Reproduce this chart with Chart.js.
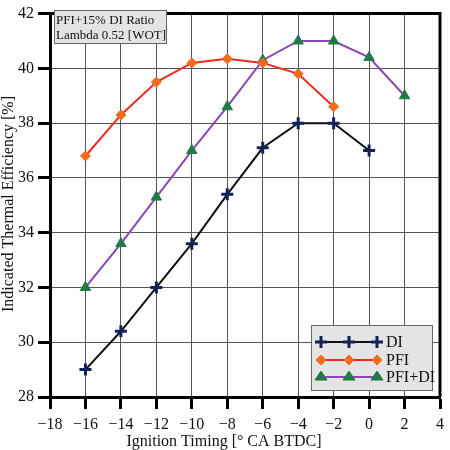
<!DOCTYPE html>
<html>
<head>
<meta charset="utf-8">
<script src="https://cdn.jsdelivr.net/npm/chart.js@4"></script>
<style>
  html, body { margin: 0; padding: 0; background: #fff; }
  #wrap { width: 450px; height: 450px; }
</style>
</head>
<body>
<div id="wrap"><canvas id="chart" width="450" height="450"></canvas></div>
<script>
// ignition timing [deg CA BTDC] and efficiency series
const timingDI = [-16, -14, -12, -10, -8, -6, -4, -2, 0];
const valuesDI = [29.0, 30.4, 32.0, 33.6, 35.4, 37.1, 38.0, 38.0, 37.0];
const timingPFI = [-16, -14, -12, -10, -8, -6, -4, -2];
const valuesPFI = [36.8, 38.3, 39.5, 40.2, 40.35, 40.2, 39.8, 38.6];
const timingMix = [-16, -14, -12, -10, -8, -6, -4, -2, 0, 2];
const valuesMix = [32.0, 33.6, 35.3, 37.0, 38.6, 40.3, 41.0, 41.0, 40.4, 39.0];
const seriesNames = ['DI', 'PFI', 'PFI+DI'];
const noteLines = ['PFI+15% DI Ratio', 'Lambda 0.52 [WOT]'];
const xTitle = 'Ignition Timing [\u00b0 CA BTDC]';
const yTitle = 'Indicated Thermal Efficiency [%]';

const serif = "'Liberation Serif', 'DejaVu Serif', serif";
const toPoints = (xs, ys) => xs.map((x, i) => ({ x, y: ys[i] }));
const minus = (v) => (v < 0 ? '\u2212' + Math.abs(v) : String(v));

// 凡例用のマーカーを描く
function drawMarker(ctx, style, x, y, r) {
  ctx.beginPath();
  if (style === 'cross') {
    ctx.moveTo(x - r, y); ctx.lineTo(x + r, y);
    ctx.moveTo(x, y - r); ctx.lineTo(x, y + r);
    ctx.stroke();
  } else if (style === 'rectRot') {
    ctx.moveTo(x, y - r); ctx.lineTo(x + r, y);
    ctx.lineTo(x, y + r); ctx.lineTo(x - r, y);
    ctx.closePath(); ctx.fill(); ctx.stroke();
  } else {
    const h = r * 1.5;
    ctx.moveTo(x, y - h * 0.66); ctx.lineTo(x + r, y + h * 0.34);
    ctx.lineTo(x - r, y + h * 0.34);
    ctx.closePath(); ctx.fill(); ctx.stroke();
  }
}

// 枠・注記・凡例・軸タイトルを描く
const decor = {
  id: 'decor',
  afterDatasetsDraw(chart) {
    const { ctx, chartArea: a } = chart;
    ctx.save();
    // top / right frame
    ctx.strokeStyle = '#000';
    ctx.lineWidth = 3;
    ctx.beginPath();
    ctx.moveTo(a.left, a.top);
    ctx.lineTo(a.right, a.top);
    ctx.lineTo(a.right, a.bottom);
    ctx.stroke();

    // note box
    ctx.fillStyle = '#e4e4e4';
    ctx.fillRect(54, 10, 112, 33);
    ctx.strokeStyle = '#666';
    ctx.lineWidth = 1;
    ctx.strokeRect(54.5, 10.5, 112, 33);
    ctx.fillStyle = '#111';
    ctx.font = '13px ' + serif;
    ctx.textBaseline = 'middle';
    ctx.textAlign = 'left';
    ctx.fillText(noteLines[0], 56, 21);
    ctx.fillText(noteLines[1], 56, 36);

    // legend box
    ctx.fillStyle = '#e4e4e4';
    ctx.fillRect(311, 325, 121, 65);
    ctx.strokeStyle = '#666';
    ctx.strokeRect(311.5, 325.5, 121, 65);
    const rowsY = [342, 360, 377];
    chart.data.datasets.forEach((ds, i) => {
      const y = rowsY[i];
      ctx.strokeStyle = ds.borderColor;
      ctx.lineWidth = ds.borderWidth;
      ctx.beginPath();
      ctx.moveTo(321, y);
      ctx.lineTo(377, y);
      ctx.stroke();
      [321, 349, 377].forEach((x) => {
        ctx.fillStyle = ds.pointBackgroundColor;
        ctx.strokeStyle = ds.pointBorderColor;
        ctx.lineWidth = ds.pointBorderWidth;
        drawMarker(ctx, ds.pointStyle, x, y, ds.pointRadius);
      });
      ctx.fillStyle = '#111';
      ctx.font = '16px ' + serif;
      ctx.textAlign = 'left';
      ctx.textBaseline = 'middle';
      ctx.fillText(ds.label, 386, y + 1);
    });

    // axis titles
    ctx.fillStyle = '#111';
    ctx.font = '16px ' + serif;
    ctx.textAlign = 'center';
    ctx.textBaseline = 'middle';
    ctx.fillText(xTitle, 224, 442);
    ctx.translate(9, 204);
    ctx.rotate(-Math.PI / 2);
    ctx.fillText(yTitle, 0, 0);
    ctx.restore();
  },
};

new Chart(document.getElementById('chart'), {
  type: 'line',
  data: {
    datasets: [
      {
        label: seriesNames[0],
        data: toPoints(timingDI, valuesDI),
        borderColor: '#111',
        borderWidth: 2,
        pointStyle: 'cross',
        pointRadius: 6,
        pointBorderWidth: 3,
        pointBorderColor: '#14205a',
        pointBackgroundColor: '#14205a',
      },
      {
        label: seriesNames[1],
        data: toPoints(timingPFI, valuesPFI),
        borderColor: '#ee2a1e',
        borderWidth: 2,
        pointStyle: 'rectRot',
        pointRadius: 5,
        pointBorderWidth: 1,
        pointBorderColor: '#f26a1c',
        pointBackgroundColor: '#f26a1c',
      },
      {
        label: seriesNames[2],
        data: toPoints(timingMix, valuesMix),
        borderColor: '#8a46b4',
        borderWidth: 2,
        pointStyle: 'triangle',
        pointRadius: 6,
        pointBorderWidth: 1,
        pointBorderColor: '#1f7a45',
        pointBackgroundColor: '#1f7a45',
      },
    ],
  },
  options: {
    responsive: false,
    animation: false,
    events: [],
    layout: { padding: { top: 6, right: 10, left: 0, bottom: 0 } },
    plugins: { legend: { display: false }, tooltip: { enabled: false } },
    elements: { line: { tension: 0 } },
    scales: {
      x: {
        type: 'linear',
        min: -18,
        max: 4,
        afterFit: (s) => { s.height = 53; },
        border: { color: '#000', width: 3 },
        grid: { color: '#555', lineWidth: 1, tickLength: 12, tickWidth: 3, tickColor: '#000' },
        ticks: {
          stepSize: 2,
          padding: 6,
          color: '#111',
          font: { family: serif, size: 16 },
          maxRotation: 0,
          callback: minus,
        },
      },
      y: {
        min: 28,
        max: 42,
        afterFit: (s) => { s.width = 50; },
        border: { color: '#000', width: 3 },
        grid: { color: '#555', lineWidth: 1, tickLength: 12, tickWidth: 3, tickColor: '#000' },
        ticks: {
          stepSize: 2,
          padding: 4,
          color: '#111',
          font: { family: serif, size: 16 },
        },
      },
    },
  },
  plugins: [decor],
});
</script>
</body>
</html>
